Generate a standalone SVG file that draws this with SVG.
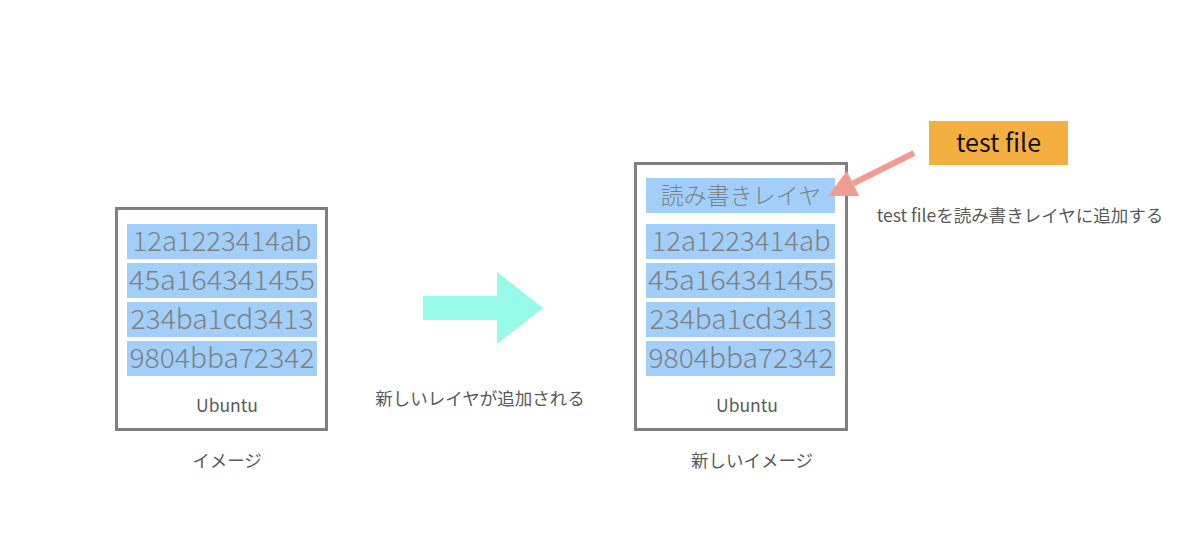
<svg xmlns="http://www.w3.org/2000/svg" width="1200" height="551" viewBox="0 0 1200 551">
<style>
.box{fill:#ffffff;stroke:#808080;stroke-width:3}
.row{fill:#a2cff9}
.hash{font-family:"Noto Sans CJK JP","Liberation Sans",sans-serif;font-weight:300;font-size:27px;fill:#7f7f7f;text-anchor:middle}
.lbl{font-family:"Noto Sans CJK JP","Liberation Sans",sans-serif;font-size:17.5px;fill:#595959;text-anchor:middle}
.rw{font-family:"Noto Sans CJK JP",sans-serif;font-weight:300;font-size:23px;fill:#7f7f7f;text-anchor:middle}
</style>
<rect width="1200" height="551" fill="#ffffff"/>

<g id="image-left">
<rect class="box" x="116.5" y="208.5" width="210" height="221"/>
<rect class="row" x="127" y="224" width="190" height="35"/>
<rect class="row" x="127" y="263" width="190" height="35"/>
<rect class="row" x="127" y="302" width="190" height="35"/>
<rect class="row" x="127" y="341" width="190" height="35"/>
<text class="hash" x="222" y="251" textLength="179" lengthAdjust="spacingAndGlyphs">12a1223414ab</text>
<text class="hash" x="222" y="290" textLength="186" lengthAdjust="spacingAndGlyphs">45a164341455</text>
<text class="hash" x="222" y="329" textLength="183" lengthAdjust="spacingAndGlyphs">234ba1cd3413</text>
<text class="hash" x="222" y="368" textLength="185" lengthAdjust="spacingAndGlyphs">9804bba72342</text>
<text class="lbl" x="227" y="412">Ubuntu</text>
</g>
<text class="lbl" x="227" y="467">イメージ</text>

<g id="image-right">
<rect class="box" x="635.5" y="163.5" width="211" height="266"/>
<rect class="row" x="646" y="178" width="189" height="35"/>
<rect class="row" x="646" y="224" width="189" height="35"/>
<rect class="row" x="646" y="263" width="189" height="35"/>
<rect class="row" x="646" y="302" width="189" height="35"/>
<rect class="row" x="646" y="341" width="189" height="35"/>
<text class="rw" x="741" y="204">読み書きレイヤ</text>
<text class="hash" x="741" y="251" textLength="179" lengthAdjust="spacingAndGlyphs">12a1223414ab</text>
<text class="hash" x="741" y="290" textLength="186" lengthAdjust="spacingAndGlyphs">45a164341455</text>
<text class="hash" x="741" y="329" textLength="183" lengthAdjust="spacingAndGlyphs">234ba1cd3413</text>
<text class="hash" x="741" y="368" textLength="185" lengthAdjust="spacingAndGlyphs">9804bba72342</text>
<text class="lbl" x="747" y="412">Ubuntu</text>
</g>
<text class="lbl" x="752" y="467">新しいイメージ</text>

<g id="test-file">
<rect x="929" y="121" width="139" height="44" fill="#f4af41"/>
<text x="998.5" y="152" font-family="Noto Sans CJK JP,Liberation Sans,sans-serif" font-size="25" fill="#111111" text-anchor="middle">test file</text>
</g>

<g id="connectors">
<polygon points="423,296 497,296 497,272 543,308 497,344 497,320 423,320" fill="#97f9e7"/>
<line x1="914" y1="153" x2="853" y2="183.5" stroke="#f19c90" stroke-width="6"/>
<polygon points="828,196 846.7,171 859.3,196" fill="#f19c90"/>
</g>

<text class="lbl" x="480" y="405">新しいレイヤが追加される</text>
<text class="lbl" x="1020" y="222">test fileを読み書きレイヤに追加する</text>
</svg>
